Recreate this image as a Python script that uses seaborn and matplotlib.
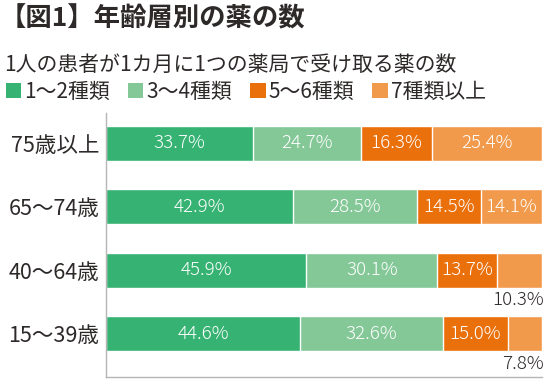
import matplotlib
matplotlib.use('Agg')
import matplotlib.pyplot as plt
import seaborn as sns
import pandas as pd
from matplotlib.patches import Patch

# Data
age_groups = ['75歳以上', '65〜74歳', '40〜64歳', '15〜39歳']
categories = ['1〜2種類', '3〜4種類', '5〜6種類', '7種類以上']
share_1_2 = [33.7, 42.9, 45.9, 44.6]
share_3_4 = [24.7, 28.5, 30.1, 32.6]
share_5_6 = [16.3, 14.5, 13.7, 15.0]
share_7_plus = [25.4, 14.1, 10.3, 7.8]

colors = ['#36b373', '#84c897', '#ea700c', '#f29a4b']
text_color = '#2e2929'

df = pd.DataFrame({
    'age': age_groups,
    categories[0]: share_1_2,
    categories[1]: share_3_4,
    categories[2]: share_5_6,
    categories[3]: share_7_plus,
})
cum = df[categories].cumsum(axis=1)
cum['age'] = df['age']

sns.set_style('white')
plt.rcParams['font.family'] = ['Noto Sans CJK JP', 'DejaVu Sans']

fig = plt.figure(figsize=(5.5, 3.84), dpi=100)
ax = fig.add_axes([106 / 550, 1 - 377 / 384, 436 / 550, 264 / 384])

# stacked bars: draw cumulative totals from the largest down
for cat, col in reversed(list(zip(categories, colors))):
    sns.barplot(data=cum, x=cat, y='age', orient='h', color=col,
                saturation=1, width=0.55, errorbar=None, ax=ax)

# segment labels (small last segments get their label under the bar)
for i in range(len(age_groups)):
    left = 0
    for cat in categories:
        v = df.loc[i, cat]
        if v >= 12:
            ax.text(left + v / 2, i, f'{v:.1f}%', ha='center', va='center',
                    color='white', fontsize=13.5, fontweight='light')
        else:
            ax.text(left + v + 0.5, i + 0.47, f'{v:.1f}%', ha='right',
                    va='center', color=text_color, fontsize=13.5,
                    fontweight='light')
        left += v

ax.set_xlim(0, 100)
ax.set_ylim(3.68, -0.48)
ax.set_xlabel('')
ax.set_ylabel('')
ax.set_xticks([])
ax.tick_params(axis='y', length=0, pad=5, labelsize=15.5, labelcolor=text_color)
for s in ['top', 'right']:
    ax.spines[s].set_visible(False)
for s in ['left', 'bottom']:
    ax.spines[s].set_color('#b5b5b5')
    ax.spines[s].set_linewidth(1)

fig.text(0.0, 1 - 19 / 384, '【図1】年齢層別の薬の数', ha='left', va='center',
         fontsize=19, fontweight='bold', color=text_color)
fig.text(0.008, 1 - 64.5 / 384, '1人の患者が1カ月に1つの薬局で受け取る薬の数',
         ha='left', va='center', fontsize=15, color=text_color)

handles = [Patch(facecolor=c, edgecolor='none') for c in colors]
leg = fig.legend(handles, categories, loc='center left',
                 bbox_to_anchor=(0.01, 1 - 92 / 384), ncol=4, frameon=False,
                 fontsize=15, handlelength=0.75, handleheight=0.75,
                 handletextpad=0.15, columnspacing=0.85, borderpad=0,
                 borderaxespad=0)
for t in leg.get_texts():
    t.set_color(text_color)

fig.savefig('out.png', dpi=100)
plt.close(fig)
